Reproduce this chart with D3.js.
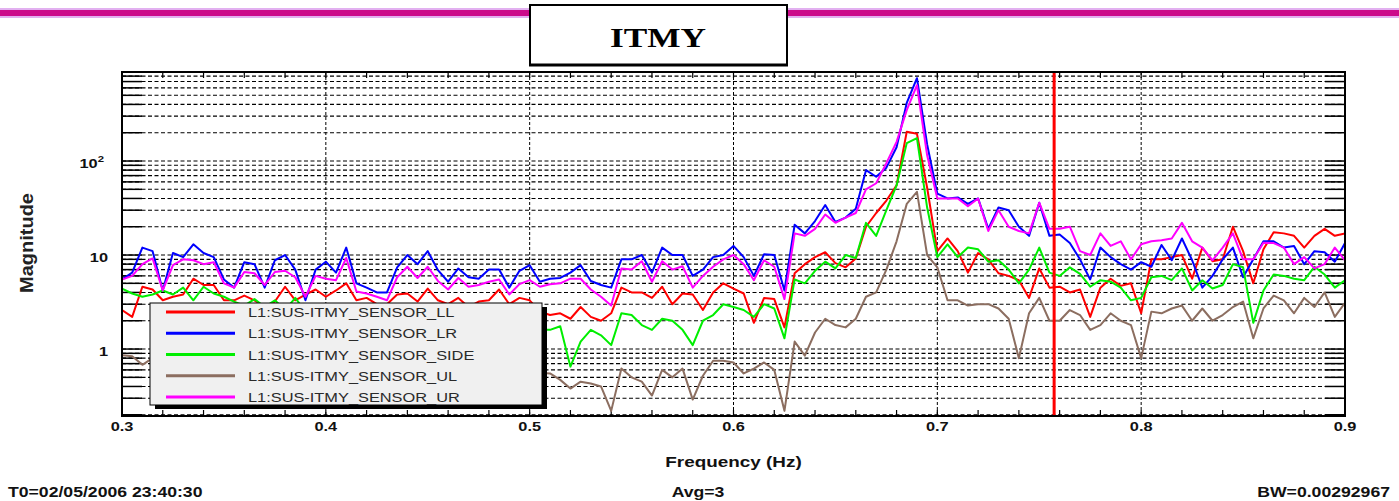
<!DOCTYPE html>
<html>
<head>
<meta charset="utf-8">
<script src="https://cdn.jsdelivr.net/npm/d3@7"></script>
<style>
  body { margin: 0; background: #fff; }
  svg { display: block; }
</style>
</head>
<body>
<div id="chart"></div>
<script>
// frequency bins (Hz) – 0.005 Hz spacing across the plotted band
const freqs = d3.range(0, 121).map(i => +(0.3 + i * 0.005).toFixed(3));

const sensorLL = [2.6, 2.2, 4.6, 4.3, 3.3, 3.6, 3.8, 5.6, 4.8, 4.8, 3.3, 3.3, 3.7, 3.3, 2.8, 3.2, 4.6, 3.3, 3.8, 4.3,
  3.6, 4.2, 5.0, 3.3, 3.5, 3.0, 3.0, 3.8, 3.9, 3.2, 4.4, 3.3, 3.0, 3.5, 2.8, 3.2, 3.3, 4.3, 3.0, 3.5,
  3.3, 2.5, 2.3, 2.4, 2.1, 2.8, 2.2, 2.0, 2.4, 4.5, 4.0, 4.0, 3.5, 4.6, 3.0, 3.9, 3.8, 2.6, 4.0, 5.0,
  4.4, 3.9, 1.9, 3.5, 3.4, 1.7, 6.4, 8.0, 9.5, 10.7, 8.2, 7.4, 9.2, 20, 28, 38, 55, 205, 195, 52,
  11, 15, 11, 6.5, 10.5, 9, 6.4, 6, 5.4, 3.5, 7.2, 4.5, 4.6, 4.0, 4.3, 2.2, 4.5, 5.6, 4.7, 5.0,
  2.4, 9, 9, 9.5, 10, 5.6, 12, 8.6, 9, 20, 11, 5, 11.5, 17.5, 17, 16, 12, 16, 19, 16, 17];

const sensorLR = [5.5, 6.5, 12, 11, 4.2, 10.5, 9.5, 13, 10.5, 9.5, 5.5, 4.5, 8.4, 8.0, 4.5, 8.8, 10, 7, 3.3, 7,
  8.5, 6.5, 12, 5, 4.5, 4, 4, 7.4, 10, 8, 11, 6.9, 5.2, 7.2, 5.8, 5.6, 7, 7, 4.5, 6.8,
  7.8, 5.2, 5.6, 5.7, 6.5, 7.8, 5.3, 4.8, 4.5, 9, 9, 10, 6.5, 12, 10, 10, 6, 7, 9.5, 10,
  12.5, 9.5, 6, 10.2, 10, 4.2, 21, 17, 23, 34, 22.5, 25, 31, 80, 68, 85, 140, 415, 760, 150,
  45, 40, 41, 35, 40, 19, 32, 30, 20, 16, 36, 16, 16.5, 13.4, 9, 5.5, 12, 9.5, 8, 7,
  8.4, 7.5, 12.8, 8.8, 15, 8.8, 4.5, 6, 9, 12, 5.8, 9, 14, 14, 12, 12.5, 8, 11, 10.7, 8.5, 13.4];

const sensorSIDE = [4.4, 3.9, 3.6, 3.8, 4.2, 3.8, 4.5, 3.3, 4.6, 3.9, 3.6, 3.2, 2.9, 3.4, 2.8, 3.3, 2.6, 3.5, 2.5, 2.9,
  2.7, 2.9, 2.5, 2.2, 2.6, 2.4, 2.1, 2.5, 2.7, 2.3, 2.0, 2.4, 2.2, 1.9, 2.3, 2.0, 2.4, 2.1, 1.8, 2.2,
  1.9, 1.6, 1.6, 1.75, 0.65, 1.2, 1.6, 1.4, 1.1, 2.4, 2.3, 1.8, 1.6, 2.1, 2.0, 1.6, 1.1, 2.0, 2.3, 3.0,
  2.8, 2.6, 2.2, 3.0, 2.7, 1.3, 5.5, 5, 6.8, 8.5, 7.2, 10, 9.3, 22, 16, 30, 55, 155, 175, 32,
  9.5, 13, 9.5, 12, 11.5, 8.5, 8.8, 7, 5, 7, 12, 6.5, 6, 7.4, 6.3, 4.6, 5.4, 5.2, 4.5, 3.3,
  3.5, 5.8, 6, 5.4, 7.2, 4.2, 5.4, 4.4, 4.8, 8, 7.4, 1.9, 4.2, 6.2, 6.0, 5.6, 5.4, 7.5, 6.2, 4.5, 5.4];

const sensorUL = [0.86, 0.84, 0.68, 0.8, 0.72, 0.6, 0.78, 0.65, 0.7, 0.55, 0.62, 0.74, 0.5, 0.66, 0.58, 0.7, 0.52, 0.64, 0.6, 0.45,
  0.62, 0.7, 0.55, 0.6, 0.5, 0.66, 0.58, 0.48, 0.6, 0.53, 0.64, 0.5, 0.57, 0.46, 0.55, 0.6, 0.5, 0.52, 0.44, 0.56,
  0.5, 0.56, 0.55, 0.47, 0.38, 0.45, 0.43, 0.4, 0.22, 0.62, 0.5, 0.45, 0.32, 0.6, 0.5, 0.62, 0.29, 0.52, 0.75, 0.75,
  0.72, 0.55, 0.62, 0.72, 0.6, 0.22, 1.2, 0.85, 1.5, 2.1, 1.8, 1.7, 2.1, 3.6, 4.0, 7, 14, 35, 47, 10,
  7.4, 3.3, 3.3, 2.9, 3.0, 3.0, 2.7, 2.1, 0.8, 2.4, 3.5, 2.0, 2.0, 2.6, 2.3, 1.6, 1.8, 2.4, 2.0, 1.8,
  0.8, 2.5, 2.4, 2.7, 2.9, 2.0, 2.7, 2.0, 2.3, 2.8, 3.2, 1.3, 2.7, 3.7, 3.3, 2.4, 3.5, 2.8, 4.0, 2.2, 3.1];

const sensorUR = [5.5, 6, 8, 9.2, 4.2, 7.8, 9, 8.8, 8, 8.4, 5, 4.5, 6.6, 6.4, 4.8, 6.6, 6.8, 5.8, 3.6, 6,
  5.6, 5.4, 9.3, 4.1, 3.9, 3.6, 3.3, 5.8, 7.5, 5.7, 7.5, 5.3, 4.3, 5.7, 4.6, 4.8, 5.2, 5.5, 3.8, 4.9,
  5.4, 4.6, 4.9, 5, 5.6, 5.6, 4.3, 3.6, 2.9, 7.2, 7, 8.6, 5.2, 8.6, 7, 7.6, 4.5, 6, 7.5, 9,
  10, 8, 5.4, 8.8, 7.5, 3.4, 17, 16, 19, 27, 22, 25, 28, 50, 58, 95, 160, 348, 640, 115,
  40, 40, 40, 33, 40, 18, 30, 20, 18, 17, 36, 19, 19, 20, 11, 10, 17, 12.5, 14, 9,
  13, 14, 14.4, 15, 22, 14, 12, 8.8, 12, 17, 9, 9, 13.5, 13.4, 12, 8, 9.5, 7.2, 8, 12, 8.8];

const seriesNames = ["L1:SUS-ITMY_SENSOR_LL", "L1:SUS-ITMY_SENSOR_LR", "L1:SUS-ITMY_SENSOR_SIDE",
  "L1:SUS-ITMY_SENSOR_UL", "L1:SUS-ITMY_SENSOR_UR"];
const seriesValues = [sensorLL, sensorLR, sensorSIDE, sensorUL, sensorUR];
const seriesColors = ["#ff0000", "#0000ff", "#00ee00", "#8c6e60", "#ff00ff"];

const xTicks = [0.3, 0.4, 0.5, 0.6, 0.7, 0.8, 0.9];
const xGrid = [0.4, 0.5, 0.6, 0.7, 0.8];
const yLabels = [1, 10, 100];
const markerFreq = 0.7573;

const footLeft = "T0=02/05/2006 23:40:30";
const footMid = "Avg=3";
const footRight = "BW=0.00292967";

const W = 1399, H = 501;
const plot = { left: 122, right: 1345, top: 72, bottom: 416 };
const SX = 1.26; // the original export is stretched sideways

const svg = d3.select("#chart").append("svg")
  .attr("width", W)
  .attr("height", H)
  .style("font-family", "'Liberation Sans', Arial, sans-serif");

const x = d3.scaleLinear().domain([0.3, 0.9]).range([plot.left, plot.right]);
const y = d3.scaleLog().domain([0.194, 885]).range([plot.bottom, plot.top]);

function stretched(g, tx, ty) {
  return g.append("text").attr("transform", `translate(${tx},${ty}) scale(${SX},1)`);
}

// --- header band + title box ---
svg.append("rect").attr("x", 0).attr("y", 8).attr("width", W).attr("height", 10).attr("fill", "#e2b0f0");
svg.append("rect").attr("x", 0).attr("y", 10).attr("width", W).attr("height", 6).attr("fill", "#cc0a8a");
svg.append("rect").attr("x", 530).attr("y", 5).attr("width", 257).attr("height", 60)
  .attr("fill", "#fff").attr("stroke", "#000").attr("stroke-width", 2);
svg.append("line").attr("x1", 529).attr("x2", 788).attr("y1", 65).attr("y2", 65)
  .attr("stroke", "#000").attr("stroke-width", 3);
stretched(svg, 658, 47)
  .attr("text-anchor", "middle")
  .attr("font-family", "'Liberation Serif', 'Times New Roman', serif")
  .attr("font-weight", "bold")
  .attr("font-size", 28)
  .text("ITMY");

// --- grid ---
const grid = svg.append("g");
const yGrid = [];
[-1, 0, 1, 2].forEach(e => {
  for (let m = 1; m <= 9; m++) {
    const v = m * Math.pow(10, e);
    if (v >= 0.194 && v <= 885) yGrid.push(v);
  }
});

grid.selectAll("line.h")
  .data(yGrid)
  .join("line")
  .attr("class", "h")
  .attr("x1", plot.left).attr("x2", plot.right)
  .attr("y1", d => y(d)).attr("y2", d => y(d))
  .attr("stroke", "#000")
  .attr("stroke-width", 1.1)
  .attr("stroke-dasharray", "4,2.5");

// solid tick stubs on both sides of each grid line
grid.selectAll("line.tl")
  .data(yGrid)
  .join("line")
  .attr("class", "tl")
  .attr("x1", plot.left).attr("x2", plot.left + 20)
  .attr("y1", d => y(d)).attr("y2", d => y(d))
  .attr("stroke", "#000").attr("stroke-width", 1.5);
grid.selectAll("line.tr")
  .data(yGrid)
  .join("line")
  .attr("class", "tr")
  .attr("x1", plot.right - 20).attr("x2", plot.right)
  .attr("y1", d => y(d)).attr("y2", d => y(d))
  .attr("stroke", "#000").attr("stroke-width", 1.5);

grid.selectAll("line.v")
  .data(xGrid)
  .join("line")
  .attr("class", "v")
  .attr("x1", d => x(d)).attr("x2", d => x(d))
  .attr("y1", plot.top).attr("y2", plot.bottom)
  .attr("stroke", "#000")
  .attr("stroke-width", 1)
  .attr("stroke-dasharray", "3,2");

const minorX = d3.range(0, 31).map(i => 0.3 + i * 0.02);
grid.selectAll("line.bt")
  .data(minorX)
  .join("line")
  .attr("class", "bt")
  .attr("x1", d => x(d)).attr("x2", d => x(d))
  .attr("y1", plot.bottom).attr("y2", plot.bottom - 6)
  .attr("stroke", "#000").attr("stroke-width", 1.2);
grid.selectAll("line.tt")
  .data(minorX)
  .join("line")
  .attr("class", "tt")
  .attr("x1", d => x(d)).attr("x2", d => x(d))
  .attr("y1", plot.top).attr("y2", plot.top + 6)
  .attr("stroke", "#000").attr("stroke-width", 1.2);

// --- traces ---
svg.append("clipPath").attr("id", "plotclip")
  .append("rect")
  .attr("x", plot.left).attr("y", plot.top)
  .attr("width", plot.right - plot.left).attr("height", plot.bottom - plot.top);

const line = d3.line()
  .x((d, i) => x(freqs[i]))
  .y(d => y(d));

svg.append("g")
  .attr("clip-path", "url(#plotclip)")
  .selectAll("path")
  .data(seriesValues)
  .join("path")
  .attr("d", d => line(d))
  .attr("fill", "none")
  .attr("stroke", (d, i) => seriesColors[i])
  .attr("stroke-width", 2)
  .attr("stroke-linejoin", "round");

// cursor line
svg.append("line")
  .attr("x1", x(markerFreq)).attr("x2", x(markerFreq))
  .attr("y1", plot.top).attr("y2", plot.bottom)
  .attr("stroke", "#ff0000").attr("stroke-width", 3);

// frame
svg.append("rect")
  .attr("x", plot.left).attr("y", plot.top)
  .attr("width", plot.right - plot.left).attr("height", plot.bottom - plot.top)
  .attr("fill", "none").attr("stroke", "#000").attr("stroke-width", 2);

// --- axes labels ---
const axisText = svg.append("g").attr("font-weight", "bold").attr("font-size", 13).attr("fill", "#111");

xTicks.forEach(t => {
  stretched(axisText, x(t), 431).attr("text-anchor", "middle").text(t.toFixed(1));
});

yLabels.forEach(v => {
  if (v === 100) {
    const t = stretched(axisText, 104, y(v) + 7).attr("text-anchor", "end");
    t.append("tspan").text("10");
    t.append("tspan").attr("dy", -6).attr("font-size", 9).text("2");
  } else {
    stretched(axisText, 108, y(v) + 7).attr("text-anchor", "end").text(v);
  }
});

stretched(svg, (plot.left + plot.right) / 2, 467)
  .attr("text-anchor", "middle")
  .attr("font-weight", "bold")
  .attr("font-size", 15)
  .attr("fill", "#111")
  .text("Frequency (Hz)");

svg.append("text")
  .attr("transform", "translate(33,243) rotate(-90)")
  .attr("text-anchor", "middle")
  .attr("font-size", 18)
  .attr("font-weight", "bold")
  .attr("fill", "#222")
  .attr("textLength", 100)
  .attr("lengthAdjust", "spacingAndGlyphs")
  .text("Magnitude");

// footer
const foot = svg.append("g").attr("font-weight", "bold").attr("font-size", 14).attr("fill", "#111");
stretched(foot, 8, 497).text(footLeft);
stretched(foot, 698, 497).attr("text-anchor", "middle").text(footMid);
stretched(foot, 1390, 497).attr("text-anchor", "end").text(footRight);

// --- legend ---
const lg = { x: 150, y: 303, w: 392, h: 102 };
const legend = svg.append("g");
legend.append("rect")
  .attr("x", lg.x + 5).attr("y", lg.y + 4)
  .attr("width", lg.w).attr("height", lg.h)
  .attr("fill", "#000");
legend.append("rect")
  .attr("x", lg.x).attr("y", lg.y)
  .attr("width", lg.w).attr("height", lg.h)
  .attr("fill", "#f0f0f0").attr("stroke", "#000").attr("stroke-width", 1);

const rowY = d3.scaleLinear().domain([0, 4]).range([lg.y + 9, lg.y + 94]);
seriesNames.forEach((name, i) => {
  legend.append("line")
    .attr("x1", 166).attr("x2", 235)
    .attr("y1", rowY(i)).attr("y2", rowY(i))
    .attr("stroke", seriesColors[i]).attr("stroke-width", 3);
  stretched(legend, 248, rowY(i) + 5)
    .attr("font-size", 13)
    .attr("fill", "#2a2a2a")
    .text(name);
});
</script>
</body>
</html>
